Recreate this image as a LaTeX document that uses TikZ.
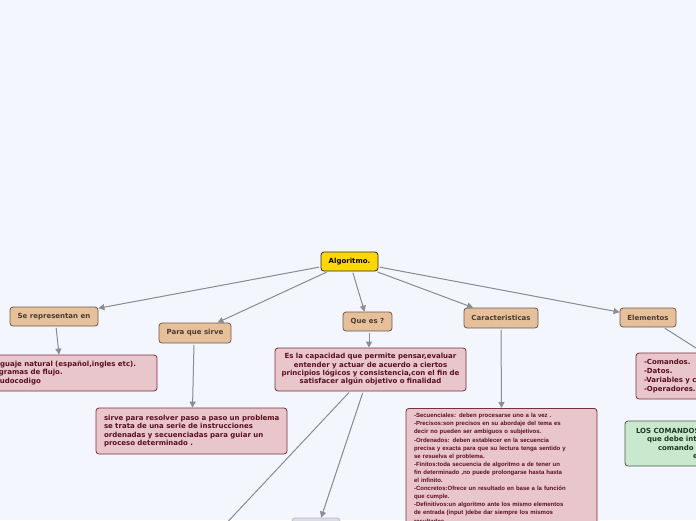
\documentclass[tikz,border=0pt]{standalone}
\usepackage{fontspec}
\newfontfamily\dvs{DejaVu Sans}
\newfontfamily\lib{Liberation Sans}
\usetikzlibrary{arrows.meta}
\definecolor{bg}{HTML}{F4F6FE}
\definecolor{gold}{HTML}{FFD700}
\definecolor{goldb}{HTML}{2A2A2A}
\definecolor{tanf}{HTML}{E6BF9B}
\definecolor{tanb}{HTML}{6E5A4A}
\definecolor{tant}{HTML}{4A3C30}
\definecolor{pinkf}{HTML}{E8C6CC}
\definecolor{pinkb}{HTML}{7A2E3E}
\definecolor{pinkt}{HTML}{5A0F1E}
\definecolor{greenf}{HTML}{C9E8CE}
\definecolor{greenb}{HTML}{4A5A4C}
\definecolor{greent}{HTML}{1E3A22}
\definecolor{lgray}{HTML}{8C8C94}
\definecolor{hidf}{HTML}{DCDCE4}
\begin{document}
\begin{tikzpicture}[x=1pt,y=-1pt,
  box/.style={rounded corners=3pt, line width=0.8pt, inner sep=0pt,
    font=\dvs\bfseries\fontsize{7}{8.3}\selectfont},
  topic/.style={box, fill=tanf, draw=tanb, text=tant, minimum height=19pt},
  pinkbox/.style={box, fill=pinkf, draw=pinkb, text=pinkt},
  greenbox/.style={box, fill=greenf, draw=greenb, text=greent},
  hidbox/.style={box, fill=hidf, draw=hidf!85!black},
  conn/.style={draw=lgray, line width=1pt, shorten <=1.5pt, -{Triangle[length=6pt,width=6pt]}, fill=lgray}]
\useasboundingbox (0,0) rectangle (696,520);
\fill[bg] (0,0) rectangle (696,520);
\clip (0,0) rectangle (696,520);

\node[box, fill=gold, draw=goldb, text=black, minimum width=57pt, minimum height=19pt] (alg) at (349.5,261.5) {Algoritmo.};
\node[topic, minimum width=88pt] (sr) at (54,316.5) {Se representan en};
\node[topic, minimum width=72pt, minimum height=20pt] (pqs) at (195,333) {Para que sirve};
\node[topic, minimum width=49pt] (qe) at (367.5,321.5) {Que es ?};
\node[topic, minimum width=74pt, minimum height=20pt] (car) at (501,318) {Caracteristicas};
\node[topic, minimum width=56pt] (ele) at (648,317.5) {Elementos};

\node[pinkbox, minimum width=182pt, minimum height=36pt, text width=166pt, align=left] (len) at (66,373)
  {-Lenguaje natural (español,ingles etc).\\-Diagramas de flujo.\\-Pseudocodigo};
\node[pinkbox, minimum width=191pt, minimum height=46pt, text width=175pt, align=left] (sirve) at (191.5,431)
  {\mbox{sirve para resolver paso a paso un problema}\\se trata de una serie de instrucciones\\ordenadas y secuenciadas para guiar un\\proceso determinado .};
\node[pinkbox, minimum width=191pt, minimum height=43pt, text width=187pt, align=center] (esla) at (370.5,369.5)
  {Es la capacidad que permite pensar,evaluar\\entender y actuar de acuerdo a ciertos\\principios lógicos y consistencia,con el fin de\\satisfacer algún objetivo o finalidad};
\node[pinkbox, anchor=north, minimum width=191pt, text width=175pt, align=left, inner ysep=5pt,
  font=\lib\bfseries\fontsize{6}{8.1}\selectfont] (list) at (501.5,408)
  {-Secuenciales: deben procesarse uno a la vez .\\
   -Precisos:son precisos en su abordaje del tema es\\
   decir no pueden ser ambiguos o subjetivos.\\
   -Ordenados: deben establecer en la secuencia\\
   precisa y exacta para que su lectura tenga sentido y\\
   se resuelva el problema.\\
   -Finitos:toda secuencia de algoritmo a de tener un\\
   fin determinado ,no puede prolongarse hasta hasta\\
   el infinito.\\
   -Concretos:Ofrece un resultado en base a la función\\
   que cumple.\\
   -Definitivos:un algoritmo ante los mismo elementos\\
   de entrada (input )debe dar siempre los mismos\\
   resultados.};
\node[pinkbox, minimum width=208pt, minimum height=46pt, text width=192pt, align=left,
  font=\dvs\bfseries\fontsize{7}{8.8}\selectfont] (elist) at (740,376)
  {-Comandos.\\-Datos.\\-Variables y constantes.\\-Operadores.};
\node[greenbox, minimum width=230pt, minimum height=45pt, text width=214pt, align=left,
  font=\dvs\bfseries\fontsize{7}{8.5}\selectfont] (green) at (740,443.5)
  {\hspace*{3pt}LOS COMANDOS\\\hspace*{14pt}que debe int\\\hspace*{25pt}comando\\\hspace*{60pt}e};
\node[hidbox, minimum width=80pt, minimum height=30pt] (hida) at (206,545) {};
\node[hidbox, minimum width=48pt, minimum height=30pt] (hidb) at (316,533) {};

\draw[conn] (alg) -- (sr);
\draw[conn] (alg) -- (pqs);
\draw[conn] (alg) -- (qe);
\draw[conn] (alg) -- (car);
\draw[conn] (alg) -- (ele);
\draw[conn] ([xshift=2pt]sr.south) -- ([xshift=-7pt]len.north);
\draw[conn] ([xshift=-1pt]pqs.south) -- ([xshift=1pt]sirve.north);
\draw[conn] ([xshift=1.5pt]qe.south) -- ([xshift=-1.5pt]esla.north);
\draw[conn] (car.south) -- (list.north);
\draw[conn] (ele) -- (elist);
\draw[conn] (esla) -- (hida);
\draw[conn] (esla) -- (hidb);
\end{tikzpicture}
\end{document}
